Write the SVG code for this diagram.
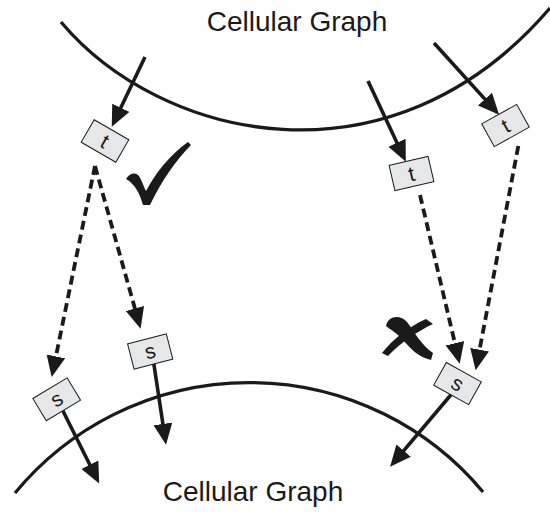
<svg xmlns="http://www.w3.org/2000/svg" width="550" height="512" viewBox="0 0 550 512">
<style>
.curve{fill:none;stroke:#1a1a1a;stroke-width:3.3}
.solid{fill:none;stroke:#1a1a1a;stroke-width:3.6}
.dash{fill:none;stroke:#1a1a1a;stroke-width:3.8;stroke-dasharray:9 5}
.box{fill:#e6e7e8;stroke:#1a1a1a;stroke-width:1}
.lbl{font-family:"Liberation Sans",Arial,sans-serif;font-size:21px;fill:#1a1a1a;text-anchor:middle}
.title{font-family:"Liberation Sans",Arial,sans-serif;font-size:28px;fill:#1a1a1a;text-anchor:middle}
.mark{fill:#1a1a1a}
</style>
<defs>
<marker id="ah" markerUnits="userSpaceOnUse" markerWidth="22" markerHeight="19" refX="10" refY="9.5" orient="auto" viewBox="0 0 22 19">
<path d="M0,0 L21,9.5 L0,19 z" fill="#1a1a1a"/>
</marker>
</defs>
<rect width="550" height="512" fill="#ffffff"/>
<g id="graph-top">
<path class="curve" d="M61,22 C160,140 390,195 550,8"/>
<text class="title" x="297" y="31">Cellular Graph</text>
</g>
<g id="graph-bottom">
<path class="curve" d="M15,493 A304,304 0 0 1 483,492"/>
<text class="title" x="253" y="501">Cellular Graph</text>
</g>
<g id="connectors">
<line class="solid" x1="145" y1="57" x2="116.5" y2="116.8" marker-end="url(#ah)"/>
<line class="solid" x1="368" y1="81" x2="401.2" y2="151.8" marker-end="url(#ah)"/>
<line class="solid" x1="434" y1="43" x2="491.7" y2="106.6" marker-end="url(#ah)"/>
<line class="solid" x1="60" y1="405" x2="94.3" y2="473.7" marker-end="url(#ah)"/>
<line class="solid" x1="152.5" y1="355" x2="164.4" y2="433.8" marker-end="url(#ah)"/>
<line class="solid" x1="455" y1="390" x2="397.2" y2="458.3" marker-end="url(#ah)"/>
<line class="dash" x1="95" y1="166" x2="53.9" y2="366.2" marker-end="url(#ah)"/>
<line class="dash" x1="95" y1="166" x2="137.6" y2="318.1" marker-end="url(#ah)"/>
<line class="dash" x1="420" y1="195" x2="457.2" y2="353" marker-end="url(#ah)"/>
<line class="dash" x1="518.3" y1="146" x2="477.7" y2="359.5" marker-end="url(#ah)"/>
</g>
<g id="t1" transform="translate(105,141) rotate(30)">
<rect class="box" x="-20" y="-13" width="40" height="26"/>
<text class="lbl" x="0" y="7.5">t</text>
</g>
<g id="t2" transform="translate(411.5,173.5) rotate(-13)">
<rect class="box" x="-20" y="-13" width="40" height="26"/>
<text class="lbl" x="0" y="7.5">t</text>
</g>
<g id="t3" transform="translate(505.5,125.5) rotate(-29)">
<rect class="box" x="-20" y="-13" width="40" height="26"/>
<text class="lbl" x="0" y="7.5">t</text>
</g>
<g id="s1" transform="translate(56.7,399.3) rotate(-31)">
<rect class="box" x="-20" y="-13" width="40" height="26"/>
<text class="lbl" x="0" y="7">s</text>
</g>
<g id="s2" transform="translate(150.2,351.5) rotate(-14.5)">
<rect class="box" x="-20" y="-13" width="40" height="26"/>
<text class="lbl" x="0" y="7">s</text>
</g>
<g id="s3" transform="translate(457.5,383.6) rotate(29)">
<rect class="box" x="-20" y="-13" width="40" height="26"/>
<text class="lbl" x="0" y="7">s</text>
</g>
<g id="check">
<path class="mark" d="M126,179 C129,174 134,172 138,175 C141,178 143,185 146,191 C156,172 170,155 188,142 L191,145 C176,160 161,182 150,205 L143,205 C140,194 135,184 126,179 z"/>
</g>
<g id="cross">
<path class="mark" d="M386,326 C388,316 400,314 407,322 C414,331 421,345 433,353 L431,360 C418,357 410,348 403,340 C397,333 391,330 386,326 z"/>
<path class="mark" d="M426,319 L433,324 C418,331 400,343 388,356 L382,353 C394,338 410,326 426,319 z"/>
</g>
</svg>
